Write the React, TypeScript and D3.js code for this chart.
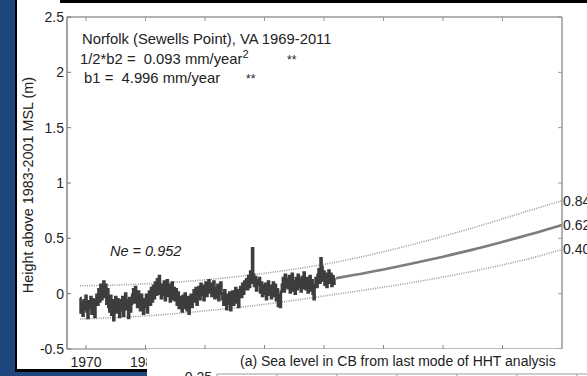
import React from "react";
import * as d3 from "d3";

const W = 587;
const H = 376;

// Observed sea level (m), 6 samples per year, 1969-2011
const obsStartYear = 1969;
const observed: number[] = [
  -0.04, -0.17, -0.08, -0.20, -0.06, -0.14,
  -0.02, -0.16, -0.22, -0.07, -0.13, -0.03,
  -0.18, -0.05, -0.12, -0.21, -0.06, -0.01,
  -0.10, 0.04, -0.07, 0.08, -0.05, 0.05,
  0.11, -0.03, 0.08, -0.09, 0.04, -0.12,
  -0.16, -0.02, -0.19, -0.06, -0.24, -0.09,
  -0.03, -0.17, -0.05, -0.13, -0.21, -0.06,
  -0.15, -0.03, -0.20, -0.08, 0.0, -0.14,
  -0.06, -0.22, -0.04, -0.16, -0.09, -0.01,
  0.04, -0.08, 0.06, -0.05, -0.12, 0.02,
  -0.03, -0.15, -0.01, -0.11, -0.18, -0.05,
  -0.12, -0.01, -0.17, -0.06, 0.02, -0.10,
  0.05, -0.07, 0.07, -0.04, 0.10, -0.01,
  0.13, 0.0, 0.16, 0.04, -0.04, 0.08,
  -0.01, 0.11, -0.06, 0.06, 0.12, -0.02,
  0.08, -0.07, 0.04, 0.10, -0.05, 0.05,
  -0.06, 0.04, -0.10, 0.01, -0.13, -0.03,
  -0.10, -0.16, -0.02, -0.13, 0.0, -0.08,
  -0.15, -0.03, -0.18, -0.07, -0.01, -0.12,
  -0.04, 0.03, -0.07, 0.05, -0.10, 0.0,
  0.06, -0.05, 0.09, -0.01, 0.07, -0.06,
  0.04, 0.10, -0.02, 0.08, 0.12, 0.01,
  0.09, -0.02, 0.06, 0.11, -0.04, 0.05,
  -0.03, 0.08, -0.06, 0.04, 0.10, 0.0,
  -0.05, -0.10, 0.03, -0.08, -0.14, -0.01,
  -0.09, 0.01, -0.15, -0.04, 0.02, -0.10,
  -0.02, 0.05, -0.08, 0.03, -0.12, 0.0,
  0.06, -0.03, 0.09, 0.0, 0.11, 0.04,
  0.13, 0.04, 0.16, 0.06, 0.20, 0.10,
  0.41, 0.17, 0.07, 0.15, 0.03, 0.12,
  0.08, 0.14, 0.01, 0.10, -0.02, 0.07,
  0.0, 0.09, -0.05, 0.06, 0.11, -0.01,
  0.07, -0.04, 0.05, 0.10, -0.02, 0.08,
  -0.06, 0.04, -0.11, -0.01, -0.12, 0.02,
  0.08, 0.14, 0.02, 0.17, 0.06, 0.13,
  0.05, 0.16, 0.01, 0.12, 0.18, 0.03,
  0.11, 0.0, 0.14, 0.04, 0.17, 0.06,
  0.13, 0.02, 0.15, 0.05, 0.19, 0.08,
  0.04, 0.14, 0.01, 0.11, 0.16, 0.03,
  0.12, 0.0, -0.05, 0.08, 0.14, 0.06,
  0.17, 0.22, 0.10, 0.32, 0.24, 0.12,
  0.20, 0.08, 0.18, 0.06, 0.16, 0.21,
  0.10, 0.18, 0.07, 0.16, 0.09, 0.14,
];
const samplesPerYear = 6;

// Fitted quadratic trend & projection (m), with confidence bounds
const fitYears = [1969, 1975, 1980, 1985, 1990, 1995, 2000, 2005, 2010, 2012, 2015, 2020, 2025, 2030, 2035, 2040, 2045, 2050];
const fitValues = [-0.079, -0.069, -0.056, -0.038, -0.015, 0.012, 0.044, 0.081, 0.122, 0.140, 0.168, 0.219, 0.274, 0.334, 0.398, 0.468, 0.541, 0.620];
const upperValues = [0.071, 0.078, 0.089, 0.104, 0.125, 0.152, 0.184, 0.222, 0.265, 0.285, 0.318, 0.379, 0.446, 0.518, 0.594, 0.676, 0.759, 0.840];
const lowerValues = [-0.229, -0.216, -0.201, -0.180, -0.155, -0.128, -0.096, -0.060, -0.021, -0.005, 0.018, 0.059, 0.102, 0.150, 0.202, 0.260, 0.323, 0.400];
const projectionStart = 2012;

const yTicks = [-0.5, 0, 0.5, 1, 1.5, 2, 2.5];
const yTickLabels = ["-0.5", "0", "0.5", "1", "1.5", "2", "2.5"];
const xTicks = [1970, 1980, 1990, 2000, 2010, 2020, 2030, 2040];
const xTickLabels = ["1970", "1980"];
const endLabels = ["0.84", "0.62", "0.40"];
const endValues = [0.84, 0.62, 0.40];

const FONT = "'Liberation Sans', Arial, sans-serif";

export default function App() {
  const x = d3.scaleLinear().domain([1966.8, 2050]).range([67, 562]);
  const y = d3.scaleLinear().domain([-0.5, 2.5]).range([349, 17]);

  const obsPts: [number, number][] = observed.map((v, i) => [obsStartYear + i / samplesPerYear, v]);
  const stepLine = d3.line<[number, number]>().x((d) => x(d[0])).y((d) => y(d[1])).curve(d3.curveStep);
  const smooth = d3.line<[number, number]>().x((d) => x(d[0])).y((d) => y(d[1])).curve(d3.curveMonotoneX);

  const fitPts = fitYears.map((t, i) => [t, fitValues[i]] as [number, number]);
  const projPts = fitPts.filter((d) => d[0] >= projectionStart);
  const upPts = fitYears.map((t, i) => [t, upperValues[i]] as [number, number]);
  const loPts = fitYears.map((t, i) => [t, lowerValues[i]] as [number, number]);

  const x0 = x.range()[0];
  const x1 = x.range()[1];
  const yb = y.range()[0];
  const yt = y.range()[1];

  const x2 = d3.scaleLinear().domain([0, 6]).range([217, 577]);
  const x2Ticks = [0, 1, 2, 3, 4, 5, 6];

  return (
    <svg width={W} height={H} style={{ position: "absolute", left: 0, top: 0, display: "block" }} fontFamily={FONT}>
      <rect x={0} y={0} width={W} height={H} fill="#1d467c" />
      <rect x={15} y={0} width={W - 15} height={372} fill="#000" />
      <rect x={17} y={0} width={W - 17} height={369} fill="#fff" />
      <rect x={60} y={0} width={W - 60} height={3} fill="#000" />

      <path d={smooth(upPts) || ""} fill="none" stroke="#9a9a9a" strokeWidth={1.6} strokeDasharray="1 1.3" />
      <path d={smooth(loPts) || ""} fill="none" stroke="#9a9a9a" strokeWidth={1.6} strokeDasharray="1 1.3" />
      <path d={smooth(projPts) || ""} fill="none" stroke="#7d7d7d" strokeWidth={2.6} />
      <path d={stepLine(obsPts) || ""} fill="none" stroke="#3d3d3d" strokeWidth={2.6} />

      <line x1={x0} x2={x1} y1={yt} y2={yt} stroke="#999" strokeWidth={1.5} />
      <line x1={x1} x2={x1} y1={yt} y2={yb} stroke="#999" strokeWidth={1.5} />
      <line x1={x0} x2={x1} y1={yb} y2={yb} stroke="#777" strokeWidth={1.2} />
      <line x1={x0} x2={x0} y1={yt} y2={yb} stroke="#666" strokeWidth={1.2} />

      {yTicks.map((t, i) => (
        <g key={"y" + i}>
          <line x1={x0} x2={x0 + 4} y1={y(t)} y2={y(t)} stroke="#777" />
          <line x1={x1 - 4} x2={x1} y1={y(t)} y2={y(t)} stroke="#999" />
          <text x={x0 - 3} y={y(t) + 5} fontSize={14} textAnchor="end" fill="#222">{yTickLabels[i]}</text>
        </g>
      ))}
      {xTicks.map((t, i) => (
        <g key={"x" + i}>
          <line x1={x(t)} x2={x(t)} y1={yt} y2={yt + 4} stroke="#999" />
          <line x1={x(t)} x2={x(t)} y1={yb} y2={yb - 4} stroke="#888" />
        </g>
      ))}
      {xTickLabels.map((l, i) => (
        <text key={"xl" + i} x={x(xTicks[i])} y={367} fontSize={14} textAnchor="middle" fill="#222">{l}</text>
      ))}

      {endLabels.map((l, i) => (
        <text key={"e" + i} x={x1 + 1} y={y(endValues[i]) + 5} fontSize={14} fill="#222">{l}</text>
      ))}

      <text x={82} y={44} fontSize={14.8} fill="#222">Norfolk (Sewells Point), VA 1969-2011</text>
      <text x={80} y={64} fontSize={14.8} fill="#222" style={{ whiteSpace: "pre" }}>
        {"1/2*b2 =  0.093 mm/year"}
        <tspan fontSize={11} dy={-6}>2</tspan>
      </text>
      <text x={287} y={64} fontSize={12} fill="#222">**</text>
      <text x={80} y={83} fontSize={14.8} fill="#222" style={{ whiteSpace: "pre" }}>{" b1 =  4.996 mm/year"}</text>
      <text x={246} y={83} fontSize={12} fill="#222">**</text>
      <text x={110} y={256} fontSize={14.5} fontStyle="italic" fill="#222">Ne = 0.952</text>

      <text transform={`translate(33,185) rotate(-90)`} fontSize={14.4} textAnchor="middle" fill="#222">
        Height above 1983-2001 MSL (m)
      </text>

      <rect x={147} y={349} width={W - 147} height={H - 349} fill="#fff" />
      <text x={240} y={366} fontSize={14} fill="#222">(a) Sea level in CB from last mode of HHT analysis</text>
      <line x1={x2(0)} x2={W} y1={374} y2={374} stroke="#999" strokeWidth={1.2} />
      {x2Ticks.map((t, i) => (
        <line key={"t2" + i} x1={x2(t)} x2={x2(t)} y1={374} y2={H} stroke="#999" />
      ))}
      <text x={212} y={382} fontSize={14} textAnchor="end" fill="#222">0.25</text>
    </svg>
  );
}
